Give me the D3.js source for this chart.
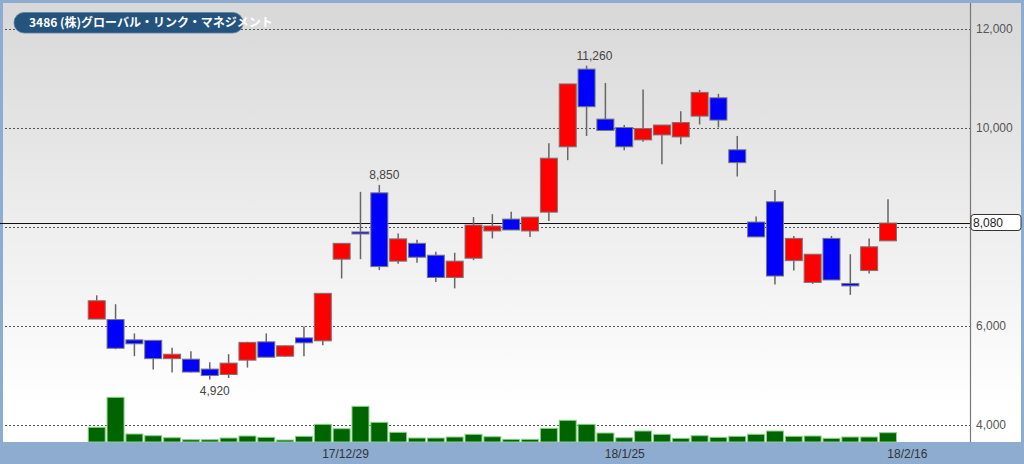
<!DOCTYPE html>
<html>
<head>
<meta charset="utf-8">
<script src="https://cdn.jsdelivr.net/npm/d3@7"></script>
<style>
  body { margin: 0; background: #8dacd0; }
  svg { display: block; }
</style>
</head>
<body>
<div class="chart"></div>
<script>
// size of the page
const w = 1024;
const h = 464;

// trading days (last one is only a label slot)
const dates = ["17/12/12","17/12/13","17/12/14","17/12/15","17/12/18","17/12/19","17/12/20",
               "17/12/21","17/12/22","17/12/25","17/12/26","17/12/27","17/12/28","17/12/29",
               "18/1/4","18/1/5","18/1/9","18/1/10","18/1/11","18/1/12","18/1/15","18/1/16",
               "18/1/17","18/1/18","18/1/19","18/1/22","18/1/23","18/1/24","18/1/25","18/1/26",
               "18/1/29","18/1/30","18/1/31","18/2/1","18/2/2","18/2/5","18/2/6","18/2/7",
               "18/2/8","18/2/9","18/2/13","18/2/14","18/2/15","18/2/16"];

const open  = [6140,6130,5720,5710,5340,5330,5130,5020,5310,5680,5390,5760,5700,7350,7900,8690,
               7310,7670,7430,6980,7370,7920,8160,7920,8300,9620,11190,10180,10010,9760,9860,
               9820,10240,10610,9560,8100,8510,7320,6880,7770,6860,7120,7720];
const high  = [6620,6440,5850,5710,5560,5490,5270,5430,5680,5850,5610,5990,6660,7670,8710,8850,
               7870,7740,7500,7480,8200,8260,8310,8200,9690,10890,11260,10910,10060,10780,10060,
               10340,10770,10690,9840,8210,8750,7820,7450,7820,7450,7770,8560];
const low   = [6140,5530,5390,5120,5060,5060,4920,4950,5160,5370,5380,5390,5610,6960,7350,7130,
               7260,7280,6890,6760,7330,7770,7940,7800,8120,9350,9840,9940,9550,9720,9270,
               9670,10070,10010,9020,7800,6840,7120,6850,6930,6630,7060,7720];
const close = [6510,5550,5640,5340,5430,5070,5000,5250,5670,5370,5600,5660,6660,7670,7880,7200,
               7760,7390,6980,7310,8040,8020,7940,8200,9390,10890,10430,9950,9620,9990,10060,
               10110,10720,10160,9300,7800,7010,7770,7450,6930,6810,7600,8080];
// volume (thousand shares)
const volume = [147,447,80,63,43,23,23,40,60,47,20,57,177,133,357,197,97,40,40,50,77,53,
                27,27,137,217,177,90,43,110,77,37,63,47,57,77,110,57,60,37,50,50,93];

const priceTicks = [4000, 6000, 8000, 10000, 12000];
const dateTicks = ["17/12/29", "18/1/25", "18/2/16"];
const lastPrice = 8080;
const title = "3486 (株)グローバル・リンク・マネジメント";
// high / low marks written on the chart
const marks = [{i: 6, v: 4920, pos: "below"}, {i: 15, v: 8850, pos: "above"}, {i: 26, v: 11260, pos: "above"}];

const fmt = d3.format(",");

const svg = d3.select(".chart").append("svg")
  .attr("width", w)
  .attr("height", h);

// background gradient of the panel
const grad = svg.append("defs").append("linearGradient")
  .attr("id", "bg").attr("x1", 0).attr("y1", 0).attr("x2", 0).attr("y2", 1);
grad.append("stop").attr("offset", "0%").attr("stop-color", "#d8d8d8");
grad.append("stop").attr("offset", "92%").attr("stop-color", "#ffffff");

svg.append("rect")
  .attr("x", 3).attr("y", 3)
  .attr("width", 1018).attr("height", 439)
  .attr("fill", "url(#bg)");

// scales
const xScale = d3.scaleBand()
  .domain(dates)
  .range([87.3, 87.3 + dates.length * 18.84])
  .padding(0);
const bw = xScale.bandwidth();
const cx = (i) => xScale(dates[i]) + bw / 2;

const yScale = d3.scaleLinear()
  .domain([4000, 12000])
  .range([425, 29]);

const vScale = d3.scaleLinear()
  .domain([0, 600])
  .range([442, 382]);

const axisX = 970;

// grid lines
svg.append("g").selectAll("line")
  .data(priceTicks)
  .enter().append("line")
  .attr("x1", 5).attr("x2", axisX)
  .attr("y1", d => Math.round(yScale(d)) + 0.5)
  .attr("y2", d => Math.round(yScale(d)) + 0.5)
  .attr("stroke", "#555")
  .attr("stroke-width", 1.2)
  .attr("stroke-dasharray", "2,2");

// price labels on the right (the one under the last price box is hidden)
svg.append("g").selectAll("text")
  .data(priceTicks.filter(d => Math.abs(yScale(d) - yScale(lastPrice)) > 12))
  .enter().append("text")
  .attr("x", 976)
  .attr("y", d => yScale(d) + 4)
  .attr("font-family", "Liberation Sans, Arial, sans-serif")
  .attr("font-size", "12px")
  .attr("fill", "#555")
  .text(d => fmt(d));

// volume bars
svg.append("g").selectAll("rect")
  .data(volume)
  .enter().append("rect")
  .attr("x", (d, i) => cx(i) - 8.5)
  .attr("y", d => vScale(d))
  .attr("width", 17)
  .attr("height", d => 442 - vScale(d))
  .attr("fill", "#006400")
  .attr("stroke", "#8fd08f")
  .attr("stroke-width", 1);

// last price line
svg.append("line")
  .attr("x1", 0).attr("x2", axisX)
  .attr("y1", Math.round(yScale(lastPrice)) + 0.5)
  .attr("y2", Math.round(yScale(lastPrice)) + 0.5)
  .attr("stroke", "#111")
  .attr("stroke-width", 1);

// candles
const candles = svg.append("g").selectAll("g")
  .data(open.map((o, i) => ({i: i, o: o, h: high[i], l: low[i], c: close[i]})))
  .enter().append("g");

candles.append("line")
  .attr("x1", d => cx(d.i)).attr("x2", d => cx(d.i))
  .attr("y1", d => yScale(d.h))
  .attr("y2", d => yScale(d.l))
  .attr("stroke", "#666")
  .attr("stroke-width", 1.5);

candles.append("rect")
  .attr("x", d => cx(d.i) - 8.5)
  .attr("y", d => yScale(Math.max(d.o, d.c)))
  .attr("width", 17)
  .attr("height", d => Math.max(2, Math.abs(yScale(d.o) - yScale(d.c))))
  .attr("fill", d => d.c >= d.o ? "#ff0000" : "#0000ff")
  .attr("stroke", "#777")
  .attr("stroke-width", 1);

// high / low marks
svg.append("g").selectAll("text")
  .data(marks)
  .enter().append("text")
  .attr("x", d => cx(d.i) - 10)
  .attr("y", d => d.pos === "above" ? yScale(d.v) - 6 : yScale(d.v) + 15.5)
  .attr("font-family", "Liberation Sans, Arial, sans-serif")
  .attr("font-size", "12px")
  .attr("fill", "#444")
  .text(d => fmt(d.v));

// vertical axis line
svg.append("line")
  .attr("x1", axisX + 0.5).attr("x2", axisX + 0.5)
  .attr("y1", 3).attr("y2", 442)
  .attr("stroke", "#777")
  .attr("stroke-width", 1.2);

// last price box
svg.append("rect")
  .attr("x", 971).attr("y", 214.5)
  .attr("width", 50).attr("height", 16)
  .attr("rx", 3)
  .attr("fill", "#fff")
  .attr("stroke", "#333")
  .attr("stroke-width", 1);
svg.append("text")
  .attr("x", 973).attr("y", 227)
  .attr("font-family", "Liberation Sans, Arial, sans-serif")
  .attr("font-size", "12px")
  .attr("fill", "#222")
  .text(fmt(lastPrice));

// date labels in the bottom band
svg.append("g").selectAll("text")
  .data(dateTicks)
  .enter().append("text")
  .attr("x", d => xScale(d) + bw / 2 - 19.5)
  .attr("y", 457.5)
  .attr("font-family", "Liberation Sans, Arial, sans-serif")
  .attr("font-size", "12px")
  .attr("fill", "#333")
  .text(d => d);

// title badge
svg.append("rect")
  .attr("x", 14).attr("y", 12.5)
  .attr("width", 229).attr("height", 20.5)
  .attr("rx", 10)
  .attr("fill", "#24547e")
  .attr("stroke", "#5d7fa0")
  .attr("stroke-width", 0.8);
svg.append("text")
  .attr("x", 29).attr("y", 27)
  .attr("font-family", "Noto Sans CJK JP, sans-serif")
  .attr("font-size", "12px")
  .attr("font-weight", "bold")
  .attr("fill", "#fff")
  .text(title);
</script>
</body>
</html>
